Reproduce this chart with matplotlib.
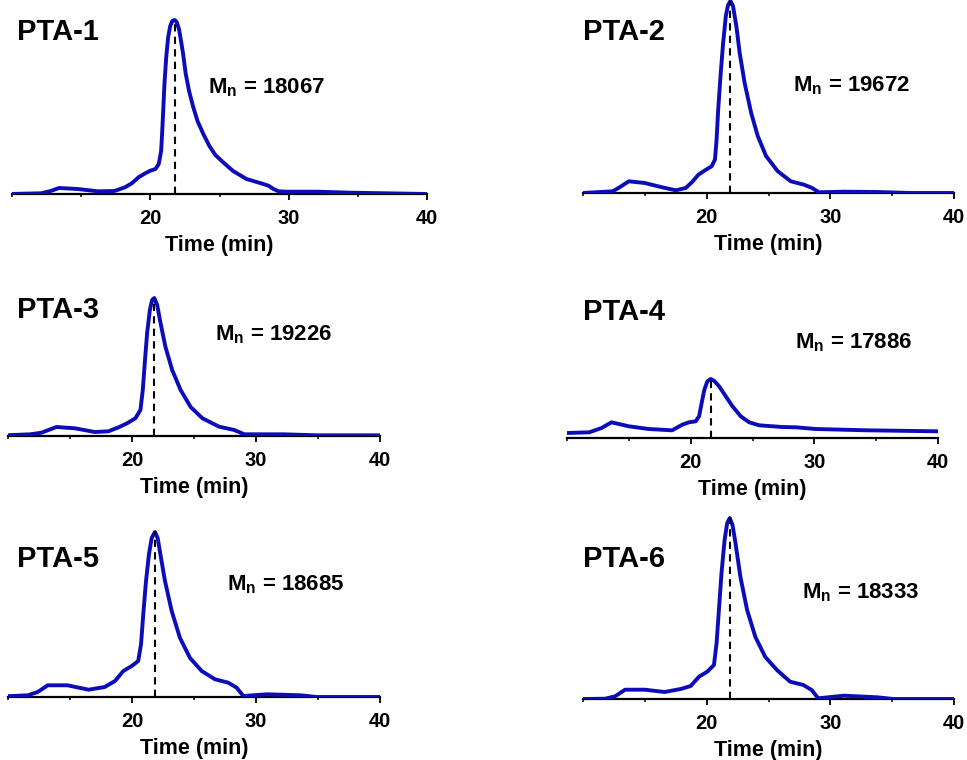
import numpy as np
import matplotlib.pyplot as plt
from matplotlib.ticker import MultipleLocator

plt.rcParams['font.family'] = ['Liberation Sans', 'DejaVu Sans']
plt.rcParams['font.weight'] = 'bold'

# GPC traces: elution time (min) and detector signal (relative units)
t1 = [9.8, 12.1, 12.8, 13.4, 14.75, 16.2, 17.4, 18.17, 18.66, 19.15, 19.63, 20.0, 20.37, 20.61,
      20.78, 20.85, 20.93, 21.02, 21.15, 21.29, 21.44, 21.59, 21.76, 21.9, 22.07, 22.22, 22.37,
      22.56, 22.8, 23.1, 23.41, 23.83, 24.27, 24.7, 25.24, 25.98, 26.95, 27.93, 28.54, 28.9,
      29.27, 29.9, 32.1, 34.5, 40.0]
s1 = [0, 0.7, 3, 6, 5, 2.7, 3, 6.7, 10.7, 16.7, 20.7, 23.3, 25, 30,
      43, 60, 83, 110, 137, 157, 168, 173, 174, 172, 165, 153, 140,
      120, 103, 87, 73, 60, 48, 39, 32, 23, 15, 11, 8.3, 5,
      2.7, 2.3, 2.3, 1.3, 0]

t2 = [10.0, 12.4, 13.0, 13.7, 15.0, 16.4, 17.5, 18.3, 18.8, 19.33, 19.87, 20.4, 20.67, 20.8,
      20.93, 21.12, 21.33, 21.55, 21.73, 21.92, 22.13, 22.4, 22.67, 23.07, 23.6, 24.13, 24.8,
      25.73, 26.8, 27.87, 28.53, 29.07, 31.1, 33.8, 36.5, 40.0]
s2 = [0, 1.7, 6, 11.7, 10, 5.7, 2.7, 5, 10.7, 18.3, 22.7, 26.7, 33.3, 53,
      83, 117, 150, 177, 188, 192, 187, 167, 140, 110, 80, 57, 37,
      22, 11.7, 8.3, 5, 0.7, 1.3, 1, 0, 0]

t3 = [9.8, 11.8, 12.7, 13.9, 15.4, 17.0, 18.1, 18.92, 19.6, 20.27, 20.68, 20.87, 21.03, 21.22,
      21.44, 21.62, 21.8, 22.03, 22.3, 22.7, 23.24, 23.92, 24.73, 25.68, 27.03, 28.25, 29.06,
      32.2, 34.9, 40.0]
s3 = [0.7, 1.7, 3.3, 9, 7.7, 4, 4.7, 8.7, 12.7, 17.7, 26, 46, 73, 103,
      126, 136, 138, 131, 113, 89, 66, 46, 29, 17.7, 9.3, 6, 1.7,
      1.7, 0.7, 0.7]

t4 = [10.0, 11.8, 12.8, 13.6, 15.0, 16.6, 18.5, 19.32, 19.86, 20.4, 20.68, 20.89, 21.1, 21.35,
      21.62, 21.89, 22.3, 22.84, 23.38, 24.05, 24.73, 25.54, 27.4, 28.5, 30.1, 34.2, 39.9]
s4 = [5, 5.7, 10, 15.7, 11.7, 9, 7.7, 13.3, 15.7, 16.7, 21.7, 35, 48, 56.7,
      59, 57.3, 51.7, 41.7, 31.7, 21.7, 15.7, 12.7, 11, 10.7, 9, 7.7, 6.7]

t5 = [9.8, 11.6, 12.4, 13.2, 14.8, 16.5, 17.8, 18.63, 19.3, 19.98, 20.5, 20.73, 20.91, 21.13,
      21.37, 21.59, 21.85, 22.07, 22.34, 22.66, 23.2, 23.87, 24.68, 25.62, 26.69, 27.77, 28.44,
      28.98, 30.9, 33.6, 34.9, 40.0]
s5 = [0.7, 1.7, 5, 11.7, 11.7, 7.3, 10, 16, 26, 31, 36, 53, 83, 116,
      143, 159, 165, 159, 139, 116, 86, 59, 39, 26, 17.7, 14.3, 9.3,
      1, 2.7, 1.7, 0, 0]

t6 = [10.0, 11.8, 12.6, 13.4, 15.0, 16.6, 17.9, 18.71, 19.38, 20.05, 20.59, 20.8, 20.99, 21.2,
      21.45, 21.66, 21.87, 22.09, 22.33, 22.73, 23.27, 23.94, 24.74, 25.68, 26.75, 27.82, 28.49,
      29.02, 31.1, 33.8, 35.1, 40.0]
s6 = [0, 0.3, 2.7, 9.3, 9.3, 7, 10, 13, 22.3, 27.3, 34, 55.7, 89, 126,
      159, 176, 181, 174, 156, 122, 89, 62, 42, 29, 17.3, 14, 9,
      0.7, 3.3, 1.7, 0, 0]

names = ['PTA-1', 'PTA-2', 'PTA-3', 'PTA-4', 'PTA-5', 'PTA-6']
mn = [18067, 19672, 19226, 17886, 18685, 18333]
times = [t1, t2, t3, t4, t5, t6]
signals = [s1, s2, s3, s4, s5, s6]

W, H = 967, 760
fig = plt.figure(figsize=(W / 100, H / 100), dpi=100)

# panel placement in pixels: left, right, baseline
boxes = [(12, 427, 194), (583, 954, 193),
         (8, 380, 436), (567, 938, 438),
         (8, 380, 697), (583, 954, 699)]
# label positions in pixels: (title x, title baseline y), (Mn x, Mn center y)
title_pos = [(17, 40), (583, 40), (17, 318), (583, 320), (17, 567), (583, 567)]
mn_pos = [(208, 88), (793, 86), (215, 335), (795, 343), (227, 585), (802, 593)]

AX_H = 195
for i in range(6):
    left, right, base = boxes[i]
    ax = fig.add_axes([left / W, 1 - base / H, (right - left) / W, AX_H / H])
    t = np.array(times[i])
    s = np.array(signals[i])
    ax.plot(t, s, color='#0c0cb8', lw=2.8, solid_joinstyle='round', zorder=3)
    k = np.argmax(s)
    ax.plot([t[k], t[k]], [0, s[k]], color='black', lw=1.5, ls=(0, (3.5, 2.5)), zorder=4)
    ax.set_xlim(10, 40)
    ax.set_ylim(0, AX_H)
    for side in ['top', 'right', 'left']:
        ax.spines[side].set_visible(False)
    ax.spines['bottom'].set_linewidth(1.6)
    ax.set_yticks([])
    ax.xaxis.set_minor_locator(MultipleLocator(5))
    ax.set_xticks([20, 30, 40])
    ax.tick_params(axis='x', which='major', length=4, width=1.3, labelsize=14.5, pad=7)
    ax.tick_params(axis='x', which='minor', length=2.5, width=1.1)
    for lab in ax.get_xticklabels():
        lab.set_fontweight('bold')
    ax.set_xlabel('Time (min)', fontsize=15.5, fontweight='bold', labelpad=5)
    ax.patch.set_alpha(0)

    tx, ty = title_pos[i]
    fig.text(tx / W, 1 - ty / H, names[i], fontsize=21, fontweight='bold', va='baseline')
    mx, my = mn_pos[i]
    fig.text(mx / W, 1 - my / H, r'M$_\mathregular{n}$ = %d' % mn[i],
             fontsize=16, fontweight='bold', va='center')

fig.savefig('out.png', dpi=100)
